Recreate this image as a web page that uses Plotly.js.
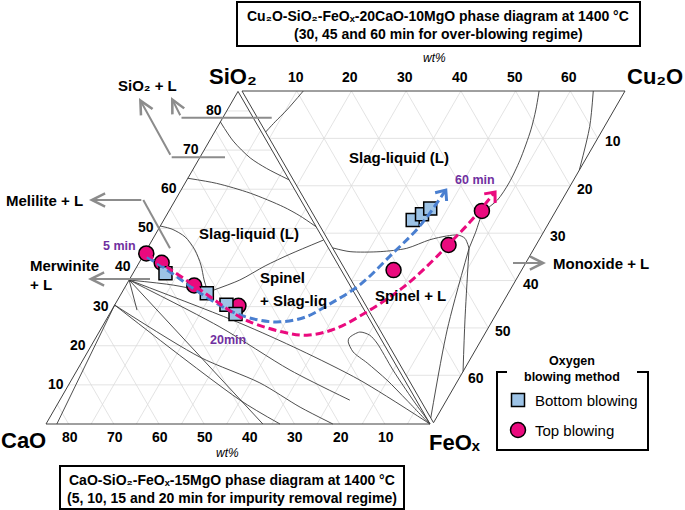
<!DOCTYPE html>
<html><head><meta charset="utf-8">
<script src="https://cdn.plot.ly/plotly-3.0.1.min.js"></script>
<style>html,body{margin:0;padding:0;background:#fff}#chart{width:685px;height:510px}</style>
</head><body><div id="chart"></div>
<script>
// ================= DATA =================
// Left diagram: CaO-SiO2-FeOx-15MgO (CaO+SiO2+FeOx = 85 wt%), points as [SiO2, FeOx]
const leftSum = 85;
const leftTopBlowing = [[43.6,0.4],[41.2,5.0],[35.4,15.1],[30.2,27.5]];      // 5,10,15,20 min
const leftBottomBlowing = [[38.5,7.2],[33.4,18.9],[30.5,24.7],[28.1,27.9]];  // 5,10,15,20 min
// Right diagram: Cu2O-SiO2-FeOx-20CaO-10MgO (Cu2O+SiO2+FeOx = 70 wt%), points as [Cu2O, FeOx]
const rightSum = 70;
const rightTopBlowing = [[8.8,37.8],[21.5,32.5],[31.2,25.3]];     // 30,45,60 min
const rightBottomBlowing = [[17.6,27.2],[19.9,26.0],[22.0,24.8]]; // 30,45,60 min

// Phase boundaries, left diagram [SiO2, FeOx]
const leftSilicaLiquidus = [[77.2,0],[72.3,5.3],[68.0,11.2],[65.3,16.2],[62.4,22.6]];
const leftTridymiteLiquidus = [[62.8,0],[61.5,7.0],[59.0,15.7],[55.5,24.8],[53.2,29.6],[50.4,34.6]];
const leftMeliliteBoundary = [[50.6,0],[49.8,3.0],[47.8,6.9],[44.5,10.7],[40.6,14.0],[36.8,16.6],[33.7,19.0]];
const leftSpinelBoundary = [[33.7,19.0],[36.8,24.5],[40.4,28.3],[43.4,32.3],[47.0,37.9]];
const leftFan1 = [[36.8,0],[35.5,10.4],[33.7,19.0]];
const leftFan2 = [[36.8,0],[25.8,30.0],[18.9,46.8],[11.2,63.9],[0,85]];
const leftFan3 = [[36.8,0],[24.8,26.1],[13.8,47.1],[6.1,64.2]];
const leftFan4 = [[36.8,0],[0,48.0]];
const leftFan5 = [[36.8,0],[29.1,5.6]];
const leftFan6 = [[30.4,0],[17.1,25.5],[10.5,42.1],[4.3,54.1],[0,63.5]];
const leftFan7 = [[30.4,0],[6.1,39.9],[0,51.8]];
const leftFan8 = [[0,2.4],[30.4,0]];
const leftLoop = [[0,85],[6.1,78.2],[13.8,69.9],[20.7,62.9],[22.7,60.3],[23.5,57.7],[22.0,56.1],[21.0,56.4],[18.4,58.8],[15.6,63.3],[11.2,69.9],[6.1,76.8],[0,85]];
// Phase boundaries, right diagram [Cu2O, FeOx]
const rightLiquidus = [[54.3,0],[51.7,4.0],[48.7,8.2],[43.5,14.6],[39.1,19.4],[35.2,23.0],[31.2,25.7],[27.8,29.8],[24.9,33.2]];
const rightSpinelTop = [[0,33.1],[2.8,33.9],[8.3,33.9],[13.5,33.2],[18.6,31.4],[22.1,30.6],[24.3,30.4],[25.2,31.1],[24.9,33.2]];
const rightSpinelLeft = [[24.9,33.2],[12.3,50.4],[0,69.0]];
const rightSpinelRight = [[24.9,33.2],[16.6,48.3],[10.8,59.2]];
const rightCu2OBoundary = [[64.2,0],[59.8,7.5],[53.3,16.7]];
const rightSilicaBoundary = [[11.2,0],[6.2,4.0],[2.8,6.5],[0,8.65]];

// Composition trends (dashed arrows), first part in left diagram, second part in right diagram
const blueTrendLeft = [[42.7,1.0],[39.4,7.1],[33.5,17.3],[28.6,27.1],[26.6,33.6],[26.1,38.8],[27.3,43.7],[30.7,47.5]];
const blueTrendRight = [[1.1,40.9],[10.5,34.2],[18.0,28.7],[26.8,20.9]];
const pinkTrendLeft = [[43.5,0.4],[40.1,6.7],[34.3,17.0],[28.4,27.2],[26.1,32.1],[23.5,40.7],[22.7,46.4],[24.3,51.8]];
const pinkTrendRight = [[0.3,46.2],[8.8,41.4],[17.1,35.7],[21.4,32.5],[27.9,27.6],[35.6,21.3]];

// Tick values
const leftSiO2Ticks = [10,20,30,40,50,60,70,80];
const leftCaOTicks = [10,20,30,40,50,60,70,80];
const rightCu2OTicks = [10,20,30,40,50,60];
const rightFeOxTicks = [10,20,30,40,50,60];

// ================= GEOMETRY (page pixels) =================
const LC=[46,424], LS=[238,91.4], LF=[430,424];
const RS=[242,91], RU=[625,91], RF=[433.5,422.7];
function pL(p){const s=p[0], f=p[1], c=leftSum-s-f; return [(c*LC[0]+s*LS[0]+f*LF[0])/leftSum,(c*LC[1]+s*LS[1]+f*LF[1])/leftSum];}
function pR(p){const u=p[0], f=p[1], s=rightSum-u-f; return [(s*RS[0]+u*RU[0]+f*RF[0])/rightSum,(s*RS[1]+u*RU[1]+f*RF[1])/rightSum];}
function multi(curves){const x=[],y=[]; curves.forEach(c=>{c.pts.forEach(p=>{const q=c.proj(p);x.push(q[0]);y.push(q[1]);}); x.push(null); y.push(null);}); return {x,y};}

const gridCurves=[];
leftSiO2Ticks.forEach(k=>{gridCurves.push({proj:pL,pts:[[k,0],[k,leftSum-k]]});});
leftCaOTicks.forEach(k=>{gridCurves.push({proj:pL,pts:[[0,leftSum-k],[leftSum-k,0]]});});
leftCaOTicks.forEach(k=>{gridCurves.push({proj:pL,pts:[[0,k],[leftSum-k,k]]});});
rightCu2OTicks.forEach(k=>{gridCurves.push({proj:pR,pts:[[k,0],[k,rightSum-k]]});});
rightFeOxTicks.forEach(k=>{gridCurves.push({proj:pR,pts:[[0,k],[rightSum-k,k]]});});
rightFeOxTicks.forEach(k=>{gridCurves.push({proj:pR,pts:[[rightSum-k,0],[0,rightSum-k]]});});
const grid=multi(gridCurves);

const edges=multi([
  {proj:pL,pts:[[0,0],[leftSum,0],[0,leftSum],[0,0]]},
  {proj:pR,pts:[[0,0],[rightSum,0],[0,rightSum],[0,0]]}
]);

const bnd=multi([leftSilicaLiquidus,leftTridymiteLiquidus,leftMeliliteBoundary,leftSpinelBoundary,leftFan1,leftFan2,leftFan3,leftFan4,leftFan5,leftFan6,leftFan7,leftFan8,leftLoop].map(p=>({proj:pL,pts:p}))
  .concat([rightLiquidus,rightSpinelTop,rightSpinelLeft,rightSpinelRight,rightCu2OBoundary,rightSilicaBoundary].map(p=>({proj:pR,pts:p}))));

const circ=leftTopBlowing.map(pL).concat(rightTopBlowing.map(pR));
const sq=leftBottomBlowing.map(pL).concat(rightBottomBlowing.map(pR));
const blue=blueTrendLeft.map(pL).concat(blueTrendRight.map(pR));
const pink=pinkTrendLeft.map(pL).concat(pinkTrendRight.map(pR));

// open chevron arrow head at the end of a trend path
function chevron(pts){const a=pts[pts.length-1], b=pts[pts.length-2]; let dx=a[0]-b[0], dy=a[1]-b[1]; const L=Math.hypot(dx,dy); dx/=L; dy/=L;
  const len=11, ang=40*Math.PI/180; const r=(t)=>[a[0]-len*(dx*Math.cos(t)-dy*Math.sin(t)), a[1]-len*(dx*Math.sin(t)+dy*Math.cos(t))];
  const p1=r(ang), p2=r(-ang); return {x:[p1[0],a[0],p2[0]], y:[p1[1],a[1],p2[1]]};}
const blueHead=chevron(blue), pinkHead=chevron(pink);

const PINK='#ea0a7e', BLUE='#4a7fd0', SQF='#9dc3e6', PURPLE='#7030a0', GRAY='#8c8c8c';
const FONT='Liberation Sans, Arial, sans-serif';

const traces=[
 {x:grid.x,y:grid.y,mode:'lines',line:{color:'#dcdcdc',width:0.8},hoverinfo:'skip'},
 {x:bnd.x,y:bnd.y,mode:'lines',line:{color:'#3a3a3a',width:0.9,shape:'spline',smoothing:0.8},hoverinfo:'skip'},
 {x:edges.x,y:edges.y,mode:'lines',line:{color:'#404040',width:1},hoverinfo:'skip'},
 {x:circ.map(p=>p[0]),y:circ.map(p=>p[1]),mode:'markers',name:'Top blowing',marker:{symbol:'circle',size:15,color:PINK,line:{color:'#000',width:1.5}}},
 {x:sq.map(p=>p[0]),y:sq.map(p=>p[1]),mode:'markers',name:'Bottom blowing',marker:{symbol:'square',size:13,color:SQF,line:{color:'#000',width:1.5}}},
 {x:blue.map(p=>p[0]),y:blue.map(p=>p[1]),mode:'lines',line:{color:BLUE,width:3,dash:'8px,4px',shape:'spline'},hoverinfo:'skip'},
 {x:pink.map(p=>p[0]),y:pink.map(p=>p[1]),mode:'lines',line:{color:PINK,width:3,dash:'8px,4px',shape:'spline'},hoverinfo:'skip'},
 {x:blueHead.x,y:blueHead.y,mode:'lines',line:{color:BLUE,width:3},hoverinfo:'skip'},
 {x:pinkHead.x,y:pinkHead.y,mode:'lines',line:{color:PINK,width:3},hoverinfo:'skip'}
];

const ann=[];
function T(x,y,text,size,o){ann.push(Object.assign({x:x,y:y,xref:'x',yref:'y',text:text,showarrow:false,font:{family:FONT,size:size,color:'#000'},xanchor:'center',yanchor:'middle'},o||{}));}
function B(t){return '<b>'+t+'</b>';}

leftSiO2Ticks.forEach(k=>{const q=pL([k,0]); T(q[0]-3,q[1]-1,B(k),14,{xanchor:'right'});});
leftCaOTicks.forEach(k=>{const q=pL([0,leftSum-k]); T(q[0]+1,q[1]+13,B(k),14);});
rightCu2OTicks.forEach(k=>{const q=pR([k,0]); T(q[0]-1,q[1]-14,B(k),14);});
rightFeOxTicks.forEach(k=>{const q=pR([rightSum-k,k]); T(q[0]+5,q[1]+3,B(k),14,{xanchor:'left'});});

T(233,76,B('SiO₂'),22);
T(655,76,B('Cu₂O'),22);
T(23,440,B('CaO'),22);
T(455,442,B('FeOₓ'),22);
T(434,58,'<i>wt%</i>',12);
T(227,453,'<i>wt%</i>',12);

T(438,16,B('Cu₂O-SiO₂-FeOₓ-20CaO-10MgO phase diagram at 1400 °C'),14);
T(438,34,B('(30, 45 and 60 min for over-blowing regime)'),14);
T(232,480,B('CaO-SiO₂-FeOₓ-15MgO phase diagram at 1400 °C'),14);
T(232,498,B('(5, 10, 15 and 20 min for impurity removal regime)'),14);

T(399,157,B('Slag-liquid (L)'),15);
T(249,233,B('Slag-liquid (L)'),15);
T(258,277,B('Spinel'),15,{xanchor:'left'});
T(258,300,B('+ Slag-liq'),15,{xanchor:'left'});
T(410,295,B('Spinel + L'),15);
T(147,85,B('SiO₂ + L'),15);
T(44,200,B('Melilite + L'),15);
T(28,265,B('Merwinite'),15,{xanchor:'left'});
T(28,284,B('+ L'),15,{xanchor:'left'});
T(601,263,B('Monoxide + L'),15);
T(119,246,B('5 min'),12.5,{font:{family:FONT,size:12.5,color:PURPLE}});
T(228,340,B('20min'),12.5,{font:{family:FONT,size:12.5,color:PURPLE}});
T(475,180,B('60 min'),12.5,{font:{family:FONT,size:12.5,color:PURPLE}});

T(572,361,B('Oxygen'),12.5);
T(572,377,B('blowing method'),12.5);
T(533,400,'Bottom blowing',15,{xanchor:'left'});
T(533,430,'Top blowing',15,{xanchor:'left'});

function arrow(x,y,ax,ay,color,w,size){ann.push({x:x,y:y,ax:ax,ay:ay,xref:'x',yref:'y',axref:'x',ayref:'y',text:' ',font:{family:FONT,size:2},showarrow:true,arrowhead:5,arrowsize:size,arrowwidth:w,arrowcolor:color,standoff:0,startstandoff:0});}
arrow(171,97,181.5,117.7,GRAY,2,1.3);
arrow(139,98,171.7,157.3,GRAY,2,1.3);
arrow(89,200,143.3,200,GRAY,2,1.3);
arrow(88,279,152,279,GRAY,2,1.3);
arrow(546,263,511,263,GRAY,2,1.3);

const shapes=[
 {type:'rect',xref:'x',yref:'y',x0:237,y0:2,x1:640,y1:46,line:{color:'#000',width:2}},
 {type:'rect',xref:'x',yref:'y',x0:60,y0:466,x1:404,y1:509,line:{color:'#000',width:2}},
 {type:'path',xref:'x',yref:'y',path:'M507,372 L497,372 L497,450 L648,450 L648,372 L637,372',line:{color:'#000',width:2}},
 {type:'rect',xref:'x',yref:'y',x0:511.5,y0:393.5,x1:524.5,y1:406.5,fillcolor:SQF,line:{color:'#000',width:1.5}},
 {type:'circle',xref:'x',yref:'y',x0:510.5,y0:422.5,x1:525.5,y1:437.5,fillcolor:PINK,line:{color:'#000',width:1.5}},
 {type:'path',xref:'x',yref:'y',path:'M271.7,117.7 L181.5,117.7',line:{color:GRAY,width:2}},
 {type:'path',xref:'x',yref:'y',path:'M225,157.3 L171.7,157.3',line:{color:GRAY,width:2}},
 {type:'path',xref:'x',yref:'y',path:'M170,248.3 L143.3,200',line:{color:GRAY,width:2}}
];

const layout={width:685,height:510,margin:{l:0,r:0,t:0,b:0},paper_bgcolor:'#fff',plot_bgcolor:'#fff',showlegend:false,hovermode:false,
 xaxis:{range:[0,685],visible:false,fixedrange:true},yaxis:{range:[510,0],visible:false,fixedrange:true},
 annotations:ann,shapes:shapes};
Plotly.newPlot('chart',traces,layout,{displayModeBar:false,staticPlot:true});
</script></body></html>
